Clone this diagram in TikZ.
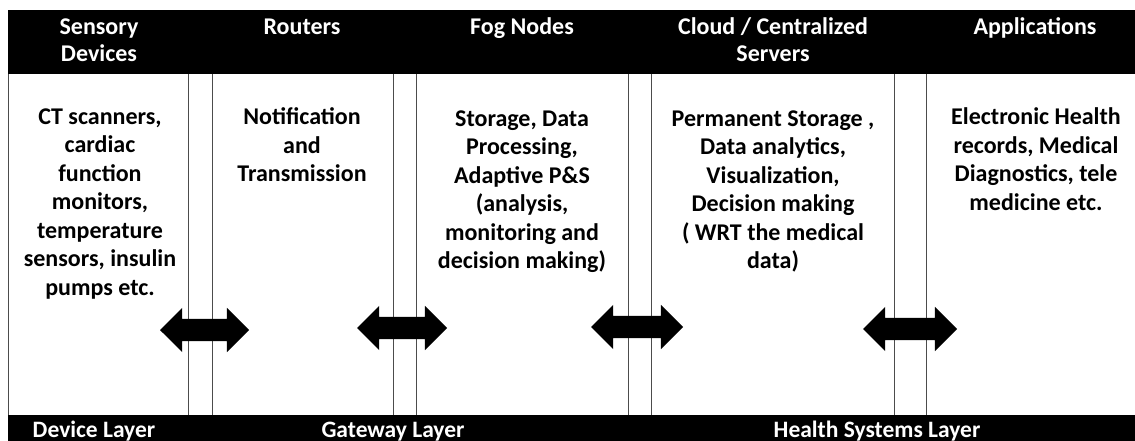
\documentclass[tikz,border=0pt]{standalone}
\usepackage{fontspec}
\setmainfont{Carlito}
\usetikzlibrary{shapes.arrows}

\begin{document}
\begin{tikzpicture}[x=1pt,y=-1pt,
  band/.style={fill=black, draw=none},
  rule/.style={draw=black!70, line width=0.9pt},
  head/.style={text=white, font=\bfseries\fontsize{24}{27.5}\selectfont, align=center, inner sep=0pt, anchor=base},
  body/.style={font=\bfseries\fontsize{24}{28.5}\selectfont, align=center, inner sep=0pt, anchor=base},
  layer/.style={text=white, font=\bfseries\fontsize{23.5}{24}\selectfont, inner sep=0pt, anchor=base},
  link/.style={double arrow, fill=black, draw=none, inner xsep=0pt, inner ysep=11pt,
    minimum width=0pt, double arrow head extend=11pt}
]
\useasboundingbox (0,0) rectangle (1135,441);
\fill[white] (0,0) rectangle (1135,441);

% header and footer bands
\path[band] (8,10) rectangle (1135,74);
\path[band] (8,415) rectangle (1135,441);

% outer border and column separators (pairs of rules)
\coordinate (b0t) at (8,74);   \coordinate (b0b) at (8,415);
\draw[rule] (b0t) -- (b0b);
\foreach \xa/\xb in {188/212, 393/416, 628/651, 894/926} {
  \draw[rule] (\xa,74) -- (\xa,415);
  \draw[rule] (\xb,74) -- (\xb,415);
}

% column headings (anchored at the baseline of their last line)
\node[head] (h1) at (99,62) {Sensory\\Devices};
\node[head] (h2) at (302,35) {Routers};
\node[head] (h3) at (522,35) {Fog Nodes};
\node[head] (h4) at (773,62) {Cloud / Centralized\\Servers};
\node[head] (h5) at (1035,35) {Applications};

% column contents (anchored at the baseline of their last line)
\node[body] (c1) at (100,295) {CT scanners,\\cardiac\\function\\monitors,\\temperature\\sensors, insulin\\pumps etc.};
\node[body] (c2) at (302,182) {Notification\\and\\Transmission};
\node[body] (c3) at (522,268.5) {Storage, Data\\Processing,\\Adaptive P\&S\\(analysis,\\monitoring and\\decision making)};
\node[body] (c4) at (773,268.5) {Permanent Storage ,\\Data analytics,\\Visualization,\\Decision making\\( WRT the medical\\data)};
\node[body] (c5) at (1036,210) {Electronic Health\\records, Medical\\Diagnostics, tele\\medicine etc.};

% bidirectional links between neighbouring tiers
\node[link, minimum height=89pt] (a1) at (204.5,330) {};
\node[link, minimum height=90pt] (a2) at (402,328) {};
\node[link, minimum height=92pt] (a3) at (637,327) {};
\node[link, minimum height=94pt] (a4) at (910,329) {};

% layer labels
\node[layer] (l1) at (94,437) {Device Layer};
\node[layer] (l2) at (393,437) {Gateway Layer};
\node[layer] (l3) at (877,437) {Health Systems Layer};
\end{tikzpicture}
\end{document}
